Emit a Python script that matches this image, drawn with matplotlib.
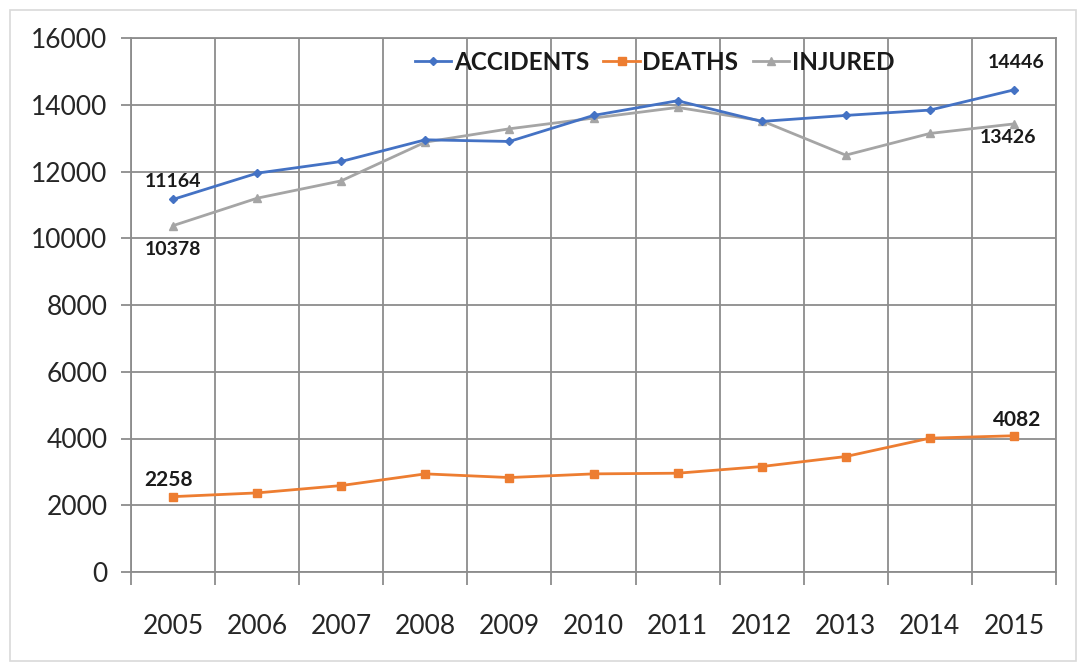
import matplotlib.pyplot as plt
from matplotlib.patches import Rectangle

plt.rcParams['font.family'] = ['Lato', 'DejaVu Sans']

years = ["2005", "2006", "2007", "2008", "2009", "2010",
         "2011", "2012", "2013", "2014", "2015"]
accidents = [11164, 11950, 12300, 12950, 12900, 13680, 14120, 13500, 13680, 13840, 14446]
deaths = [2258, 2370, 2590, 2940, 2830, 2940, 2960, 3160, 3460, 4010, 4082]
injured = [10378, 11200, 11720, 12880, 13280, 13600, 13920, 13520, 12490, 13140, 13426]

blue = "#4472C4"
orange = "#ED7D31"
gray = "#A5A5A5"

fig = plt.figure(figsize=(10.78, 6.63), dpi=100)
ax = fig.add_axes([131 / 1078, 1 - 572 / 663, 925 / 1078, 534 / 663])

# thin frame around the whole chart
fig.patches.append(Rectangle((10 / 1078, 2 / 663), 1066 / 1078, 651 / 663,
                             transform=fig.transFigure, fill=False,
                             edgecolor="#d9d9d9", linewidth=1.2))

x = list(range(len(years)))
ax.plot(x, accidents, color=blue, lw=2, marker="D", ms=4.5, label="ACCIDENTS", zorder=4)
ax.plot(x, deaths, color=orange, lw=2, marker="s", ms=6, label="DEATHS", zorder=4)
ax.plot(x, injured, color=gray, lw=2, marker="^", ms=5.5, label="INJURED", zorder=3)

ax.set_xlim(-0.5, len(years) - 0.5)
ax.set_ylim(0, 16000)
ax.set_yticks(range(0, 16001, 2000))
ax.set_xticks(x)
ax.set_xticklabels(years)
ax.set_xticks([i - 0.5 for i in range(len(years) + 1)], minor=True)

grid_c = "#8c8c8c"
ax.grid(axis="y", which="major", color=grid_c, lw=1.3)
ax.grid(axis="x", which="minor", color=grid_c, lw=1.3)
ax.set_axisbelow(True)
for s in ax.spines.values():
    s.set_color(grid_c)
    s.set_linewidth(1.3)

ax.tick_params(axis="x", which="major", length=0, pad=30, labelsize=19, labelcolor="#262626")
ax.tick_params(axis="x", which="minor", length=9, color=grid_c, width=1.3)
ax.tick_params(axis="y", length=7, color=grid_c, width=1.3, pad=10,
               labelsize=19, labelcolor="#262626")

# value labels on first and last points
lab = dict(ha="center", va="center", fontsize=14, fontweight="bold", color="#1a1a1a")
ax.annotate(str(accidents[0]), (0, accidents[0]), xytext=(0, 18), textcoords="offset pixels", **lab)
ax.annotate(str(injured[0]), (0, injured[0]), xytext=(0, -24), textcoords="offset pixels", **lab)
ax.annotate(str(accidents[-1]), (10, accidents[-1]), xytext=(2, 27), textcoords="offset pixels", **lab)
ax.annotate(str(injured[-1]), (10, injured[-1]), xytext=(-6, -14), textcoords="offset pixels", **lab)
ax.annotate(str(deaths[0]), (0, deaths[0]), xytext=(-4, 17), textcoords="offset pixels",
            **{**lab, "fontsize": 15})
ax.annotate(str(deaths[-1]), (10, deaths[-1]), xytext=(3, 16), textcoords="offset pixels",
            **{**lab, "fontsize": 15})

leg = ax.legend(loc="center", bbox_to_anchor=(0.566, 0.955), ncol=3, frameon=False,
                fontsize=17.5, handlelength=1.5, handletextpad=0.1, columnspacing=0.6,
                borderaxespad=0)
for t in leg.get_texts():
    t.set_fontweight("bold")
    t.set_color("#1a1a1a")

fig.savefig("out.png", dpi=100)
